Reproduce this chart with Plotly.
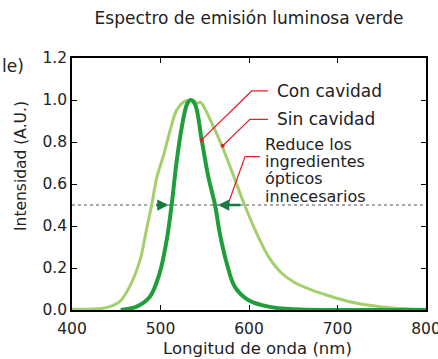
import plotly.graph_objects as go

# Data
sin_wl = [400, 420, 435, 445, 454, 465, 477, 484, 490, 496, 503, 511, 518, 526, 533, 538, 542, 545, 548,
          558, 569, 580, 595, 607, 622, 637, 652, 671, 685, 699, 722, 748, 778, 800]
sin_val = [0.003, 0.004, 0.008, 0.02, 0.04, 0.11, 0.24, 0.38, 0.50, 0.635, 0.73, 0.857, 0.95, 0.99, 1.0, 0.995,
           0.985, 0.99, 0.975, 0.89, 0.786, 0.667, 0.50, 0.38, 0.254, 0.175, 0.13, 0.095, 0.075, 0.056, 0.032,
           0.016, 0.006, 0.003]

con_wl = [455, 473, 488, 499, 507, 512.6, 518, 524, 530, 534, 539, 546.5, 554, 561.6, 567, 575, 584, 599,
          622, 652, 700, 800]
con_val = [0.0, 0.016, 0.063, 0.175, 0.333, 0.50, 0.70, 0.87, 0.98, 1.0, 0.98, 0.81, 0.635, 0.50, 0.365, 0.22,
           0.11, 0.048, 0.016, 0.003, 0.0, 0.0]

x_ticks = [400, 500, 600, 700, 800]
y_ticks = [0.0, 0.2, 0.4, 0.6, 0.8, 1.0, 1.2]
half_level = 0.5

# Leader lines: (dot, elbow, end) in data coords
leader_con = [(546.5, 0.81), (603, 1.043), (621.5, 1.043)]
leader_sin = [(570.3, 0.782), (601, 0.908), (621.5, 0.908)]
leader_red = [(576, 0.5), (595.5, 0.73), (612.4, 0.73)]

FONT = "DejaVu Sans"
LIGHT = "#a3d06c"
DARK = "#1f9e3c"
ARROW = "#177a3e"
RED = "#e3202b"
TXT = "#222222"
fs_text = 17
fs_tick = 15.5

L, R, T, B = 72, 12, 58, 49
FW, FH = 438, 359
W = FW - L - R
H = FH - T - B

fig = go.Figure()

fig.add_trace(go.Scatter(x=[400, 800], y=[half_level, half_level], mode="lines",
                         line=dict(color="#8c8c8c", width=1.5, dash="dot"), hoverinfo="skip"))
fig.add_trace(go.Scatter(x=sin_wl, y=sin_val, mode="lines", line=dict(color=LIGHT, width=3, shape="spline"),
                         name="Sin cavidad"))
fig.add_trace(go.Scatter(x=con_wl, y=con_val, mode="lines", line=dict(color=DARK, width=4, shape="spline"),
                         name="Con cavidad"))

for ld in (leader_con, leader_sin, leader_red):
    xs = [p[0] for p in ld]
    ys = [p[1] for p in ld]
    fig.add_trace(go.Scatter(x=xs, y=ys, mode="lines", line=dict(color=RED, width=1.2), hoverinfo="skip"))
    fig.add_trace(go.Scatter(x=[xs[0]], y=[ys[0]], mode="markers", marker=dict(color=RED, size=4),
                             hoverinfo="skip"))

annotations = []
# Arrows
annotations.append(dict(x=509, y=half_level, ax=493.5, ay=half_level, xref="x", yref="y", axref="x", ayref="y",
                        showarrow=True, arrowhead=2, arrowsize=0.9, arrowwidth=2.5, arrowcolor=ARROW, text=""))
annotations.append(dict(x=565, y=half_level, ax=592, ay=half_level, xref="x", yref="y", axref="x", ayref="y",
                        showarrow=True, arrowhead=2, arrowsize=0.9, arrowwidth=2.5, arrowcolor=ARROW, text=""))

# Labels
annotations.append(dict(x=629, y=1.043, xref="x", yref="y", text="Con cavidad", showarrow=False,
                        xanchor="left", yanchor="middle", font=dict(size=fs_text, color=TXT)))
annotations.append(dict(x=629, y=0.908, xref="x", yref="y", text="Sin cavidad", showarrow=False,
                        xanchor="left", yanchor="middle", font=dict(size=fs_text, color=TXT)))
red_lines = ["Reduce los", "ingredientes", "ópticos", "innecesarios"]
red_y = [0.788, 0.706, 0.624, 0.542]
for t, yy in zip(red_lines, red_y):
    annotations.append(dict(x=615.5, y=yy, xref="x", yref="y", text=t, showarrow=False,
                            xanchor="left", yanchor="middle", font=dict(size=16, color=TXT)))

# Axis titles and stray label (pixel positions -> paper coords)
annotations.append(dict(x=(21 - L) / W, y=(FH - B - 166) / H, xref="paper", yref="paper",
                        text="Intensidad (A.U.)", showarrow=False, textangle=-90,
                        xanchor="center", yanchor="middle", font=dict(size=15.5, color=TXT)))
annotations.append(dict(x=(257 - L) / W, y=(FH - B - 348) / H, xref="paper", yref="paper",
                        text="Longitud de onda (nm)", showarrow=False,
                        xanchor="center", yanchor="middle", font=dict(size=16.5, color=TXT)))
annotations.append(dict(x=(0 - L) / W, y=(FH - B - 66) / H, xref="paper", yref="paper", text="le)",
                        showarrow=False, xanchor="left", yanchor="middle", font=dict(size=fs_text, color=TXT)))

fig.update_layout(
    width=FW, height=FH,
    margin=dict(l=L, r=R, t=T, b=B, autoexpand=False),
    paper_bgcolor="white", plot_bgcolor="white",
    showlegend=False,
    font=dict(family=FONT, size=fs_tick, color=TXT),
    title=dict(text="Espectro de emisión luminosa verde", x=(249 - L) / W, xref="paper",
               y=1 - 18 / FH, yref="container", xanchor="center", yanchor="middle",
               font=dict(size=fs_text, color=TXT)),
    xaxis=dict(range=[400, 800], tickvals=x_ticks, ticktext=[str(v) for v in x_ticks],
               ticks="inside", ticklen=5, tickcolor="black", showline=True, linecolor="black", linewidth=1.5,
               mirror="allticks", showgrid=False, zeroline=False, tickfont=dict(size=fs_tick),
               ticklabeloverflow="allow", ticklabelstandoff=4, automargin=False),
    yaxis=dict(range=[0, 1.2], tickvals=y_ticks, ticktext=[f"{v:.1f}" for v in y_ticks],
               ticks="inside", ticklen=5, tickcolor="black", showline=True, linecolor="black", linewidth=1.5,
               mirror="allticks", showgrid=False, zeroline=False, tickfont=dict(size=fs_tick),
               ticklabeloverflow="allow", automargin=False),
    annotations=annotations,
)

fig.write_html("out.html", config={"displayModeBar": False},
               post_script="document.body.style.margin='0';document.body.style.overflow='hidden';")
